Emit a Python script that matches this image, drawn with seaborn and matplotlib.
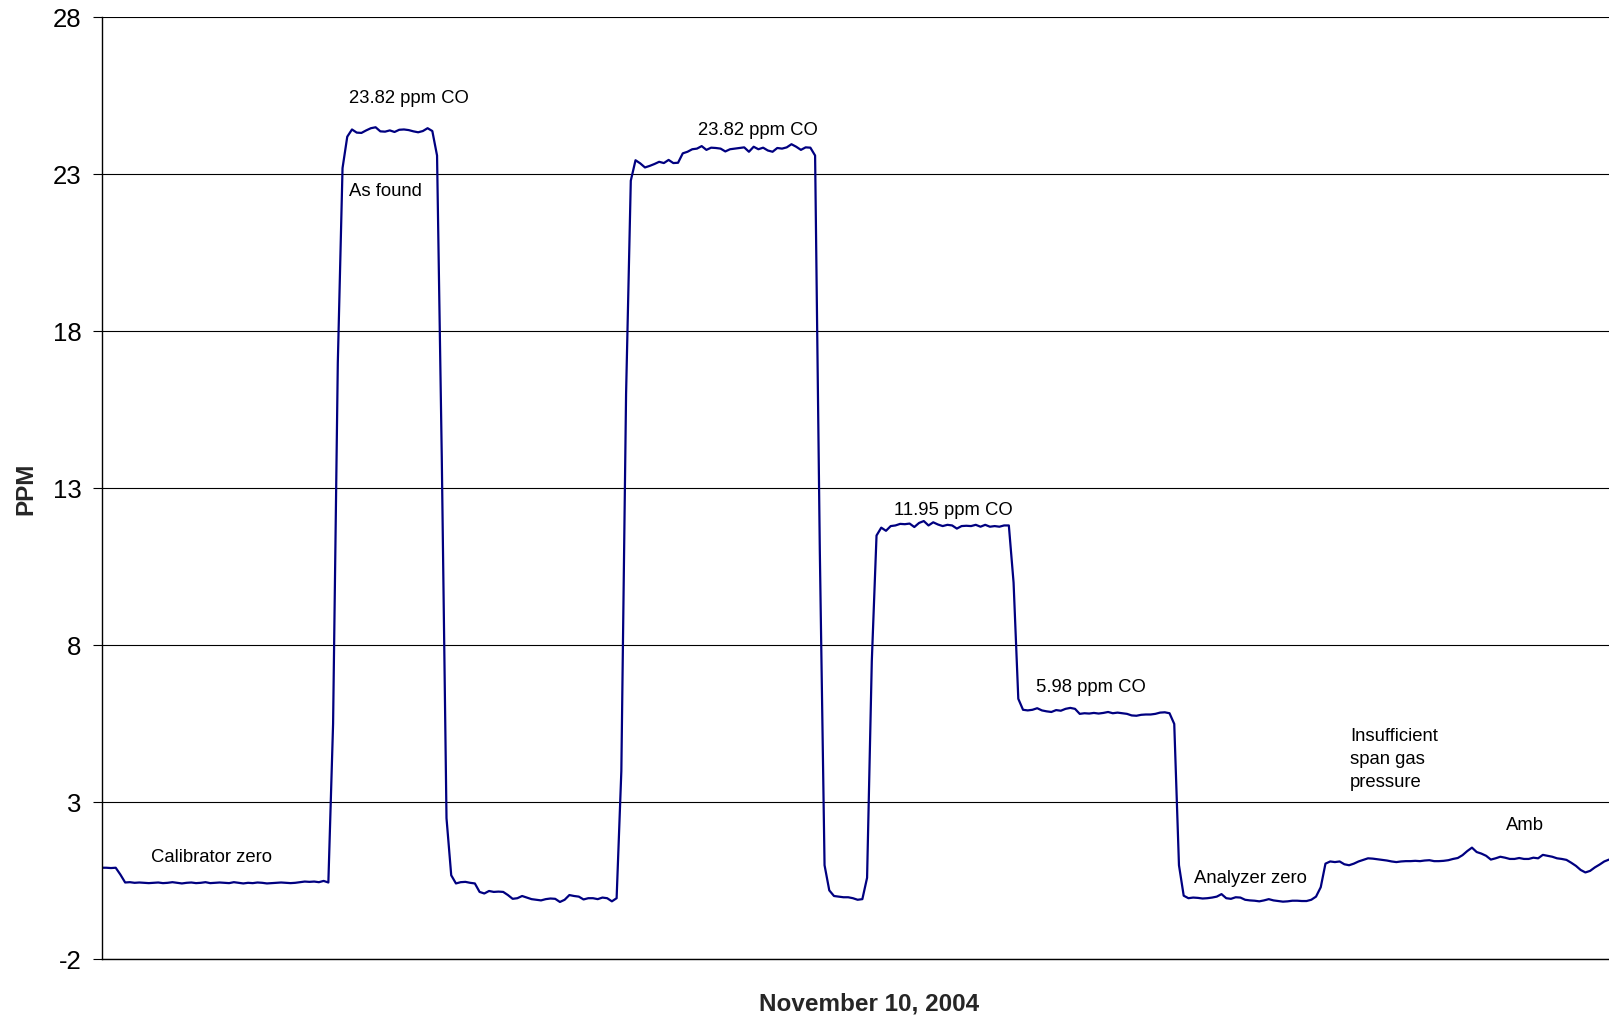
import seaborn as sns
import matplotlib.pyplot as plt
import numpy as np
import pandas as pd

sns.set_style("white")
plt.rcParams['font.family'] = ['Liberation Sans', 'DejaVu Sans']
plt.rcParams['axes.unicode_minus'] = False

# analyser readings, one sample per step
cal_zero = [0.92, 0.92, 0.91, 0.92, 0.70,
            0.45, 0.46, 0.44, 0.45, 0.44, 0.43, 0.44, 0.45, 0.43, 0.44,
            0.46, 0.44, 0.42, 0.44, 0.45, 0.43, 0.44, 0.46, 0.43, 0.44,
            0.45, 0.44, 0.43, 0.46, 0.44, 0.42, 0.44, 0.43, 0.45, 0.44,
            0.42, 0.43, 0.44, 0.45, 0.44, 0.43, 0.44, 0.46, 0.48, 0.47,
            0.48, 0.46, 0.50, 0.45]
span_as_found = [5.5, 17.0, 23.2,
                 24.20, 24.43, 24.33, 24.32, 24.40, 24.47, 24.50, 24.37, 24.36, 24.40,
                 24.35, 24.42, 24.43, 24.41, 24.37, 24.34, 24.38, 24.47, 24.38,
                 23.6, 14.0, 2.5]
purge_1 = [0.68, 0.42, 0.46, 0.47, 0.44, 0.42, 0.15, 0.10, 0.18, 0.15,
           0.16, 0.15, 0.05, -0.07, -0.05, 0.02, -0.03, -0.08, -0.10, -0.12,
           -0.08, -0.06, -0.07, -0.17, -0.10, 0.05, 0.02, 0.00, -0.09, -0.05,
           -0.05, -0.08, -0.03, -0.05, -0.15, -0.05]
span_high = [4.0, 16.0, 22.8,
             23.45, 23.35, 23.22, 23.27, 23.33, 23.40, 23.36, 23.46, 23.36, 23.37,
             23.67, 23.72, 23.80, 23.82, 23.90, 23.78, 23.85, 23.84, 23.82, 23.73,
             23.80, 23.82, 23.84, 23.86, 23.72, 23.88, 23.80, 23.85, 23.76, 23.72,
             23.84, 23.82, 23.86, 23.96, 23.88, 23.78, 23.86, 23.85,
             23.6, 11.0, 1.0]
purge_2 = [0.20, 0.02, 0.00, -0.02, -0.02, -0.05, -0.10, -0.08]
span_mid = [0.6, 7.5, 11.5,
            11.75, 11.65, 11.80, 11.82, 11.87, 11.86, 11.88, 11.77, 11.90, 11.96,
            11.82, 11.92, 11.85, 11.80, 11.84, 11.82, 11.72, 11.80, 11.81, 11.80,
            11.84, 11.78, 11.84, 11.78, 11.80, 11.78, 11.82, 11.82,
            10.0, 6.3]
span_low = [5.95, 5.93, 5.95, 6.00, 5.93, 5.90, 5.88, 5.94, 5.92, 5.98,
            6.01, 5.98, 5.82, 5.84, 5.83, 5.85, 5.83, 5.85, 5.88, 5.84,
            5.86, 5.84, 5.82, 5.77, 5.76, 5.79, 5.80, 5.80, 5.82, 5.86,
            5.87, 5.84,
            5.5, 1.0]
analyzer_zero = [0.03, -0.05, -0.03, -0.04, -0.06, -0.05, -0.03, 0.00, 0.08, -0.05,
                 -0.07, -0.02, -0.03, -0.10, -0.12, -0.13, -0.15, -0.12, -0.08, -0.12,
                 -0.14, -0.16, -0.15, -0.13, -0.13, -0.14, -0.14, -0.10, 0.00,
                 0.3, 1.05]
ambient = [1.12, 1.10, 1.12, 1.03, 1.00, 1.05, 1.12, 1.17, 1.22, 1.21,
           1.19, 1.17, 1.15, 1.12, 1.10, 1.12, 1.13, 1.13, 1.14, 1.13,
           1.15, 1.16, 1.13, 1.13, 1.14, 1.16, 1.20, 1.23, 1.32, 1.45,
           1.56, 1.42, 1.37, 1.30, 1.18, 1.22, 1.27, 1.24, 1.20, 1.20,
           1.23, 1.20, 1.20, 1.24, 1.22, 1.33, 1.30, 1.27, 1.22, 1.20,
           1.17, 1.08, 0.98, 0.85, 0.77, 0.82, 0.93, 1.02, 1.12, 1.18]

ppm = np.concatenate([cal_zero, span_as_found, purge_1, span_high, purge_2,
                      span_mid, span_low, analyzer_zero, ambient])
df = pd.DataFrame({"sample": np.arange(len(ppm)), "ppm": ppm})

fig = plt.figure(figsize=(16.09, 10.21), dpi=100)
ax = fig.add_axes([0.0631, 0.0603, 0.9369, 0.9227])

sns.lineplot(data=df, x="sample", y="ppm", color="#000080", linewidth=1.6, ax=ax)

ax.set_xlim(0, len(ppm) - 1)
ax.set_ylim(-2, 28)
ax.set_yticks(np.arange(-2, 29, 5))
ax.set_xticks([])
ax.grid(axis="y", color="black", linewidth=0.8)
ax.set_axisbelow(True)
for s in ["top", "right"]:
    ax.spines[s].set_visible(False)
for s in ["left", "bottom"]:
    ax.spines[s].set_color("black")
    ax.spines[s].set_linewidth(1.0)
ax.tick_params(axis="y", left=True, length=6.5, width=0.8, color="black",
               pad=8, labelsize=18.5, labelcolor="black")
ax.set_xlabel("")
ax.set_ylabel("")

fig.text(0.540, 0.0162, "November 10, 2004", ha="center", va="center",
         fontsize=17.5, fontweight="bold")
fig.text(0.0159, 0.5217, "PPM", ha="center", va="center", rotation=90,
         fontsize=17.5, fontweight="bold")

# notes on the trace
notes = [
    (52.4, 25.42, "23.82 ppm CO"),
    (52.4, 22.44, "As found"),
    (126.3, 24.40, "23.82 ppm CO"),
    (167.8, 12.31, "11.95 ppm CO"),
    (197.8, 6.66, "5.98 ppm CO"),
    (10.4, 1.24, "Calibrator zero"),
    (231.2, 0.58, "Analyzer zero"),
    (264.2, 4.37, "Insufficient\nspan gas\npressure"),
    (297.1, 2.25, "Amb"),
]
for x, y, txt in notes:
    ax.text(x, y, txt, ha="left", va="center", fontsize=13.3,
            linespacing=1.47, color="black")

fig.savefig("out.png", dpi=100)
